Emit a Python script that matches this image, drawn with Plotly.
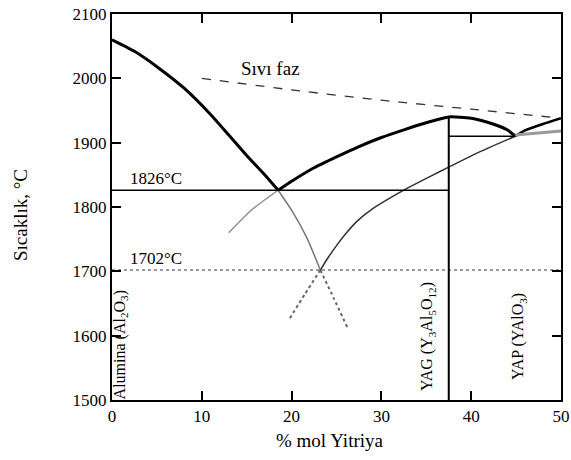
import plotly.graph_objects as go

# Liquidus (stable) curves
liq_al_x = [0, 2.5, 5.3, 8.0, 10.9, 13.0, 15.0, 17.0, 18.5]
liq_al_t = [2060, 2042, 2015, 1985, 1945, 1912, 1880, 1850, 1826]
liq_yag_x = [18.5, 20, 22.5, 25, 27.5, 30, 32.5, 35, 37.5, 40, 42, 44, 44.9]
liq_yag_t = [1826, 1840, 1861, 1878, 1894, 1908, 1920, 1931, 1940, 1938, 1931, 1920, 1910]
liq_yap_x = [44.9, 46, 48, 50]
liq_yap_t = [1910, 1919, 1929, 1938]

# Metastable extensions
meta_al_up_x = [13.0, 15.5, 18.5]
meta_al_up_t = [1760, 1795, 1826]
meta_al_down_x = [18.5, 20.0, 21.7, 23.2]
meta_al_down_t = [1826, 1795, 1752, 1702]
meta_al_dash_x = [23.2, 24.7, 26.2]
meta_al_dash_t = [1702, 1658, 1613]
meta_yag_x = [23.2, 24.0, 25.0, 26.0, 27.3, 29.0, 30.6, 33.0, 35.5, 37.5, 41.0, 44.9]
meta_yag_t = [1702, 1720, 1740, 1758, 1778, 1797, 1811, 1830, 1848, 1862, 1886, 1910]
meta_yag_dash_x = [23.2, 21.5, 19.8]
meta_yag_dash_t = [1702, 1665, 1627]
meta_yap_x = [44.9, 50]
meta_yap_t = [1912, 1918]

# Liquid-phase boundary (dashed)
sivi_x = [10, 20, 30, 40, 50]
sivi_t = [2000, 1982, 1966, 1952, 1938]

# Invariant temperatures
eut1_t = 1826
eut2_t = 1702
eut3_t = 1910
yag_x = 37.5

fig = go.Figure()

def add(x, y, color, width, dash="solid"):
    fig.add_trace(go.Scatter(x=x, y=y, mode="lines", line=dict(color=color, width=width, dash=dash,
                             shape="spline", smoothing=0.6), hoverinfo="skip", showlegend=False))

add(liq_al_x, liq_al_t, "black", 3)
add(liq_yag_x, liq_yag_t, "black", 3)
add(liq_yap_x, liq_yap_t, "black", 2.5)
add(meta_al_up_x, meta_al_up_t, "#888888", 1.3)
add(meta_al_down_x, meta_al_down_t, "#777777", 1.5)
add(meta_al_dash_x, meta_al_dash_t, "#666666", 2, "dot")
add(meta_yag_x, meta_yag_t, "#333333", 1.5)
add(meta_yag_dash_x, meta_yag_dash_t, "#666666", 2, "dot")
add(meta_yap_x, meta_yap_t, "#999999", 3)
add(sivi_x, sivi_t, "#333333", 1.3, "dash")

# Horizontal / vertical lines
add([0, yag_x], [eut1_t, eut1_t], "black", 1.5)
add([0, 50], [eut2_t, eut2_t], "#999999", 2, "dot")
add([yag_x, 44.9], [eut3_t, eut3_t], "black", 1.5)
add([yag_x, yag_x], [1500, 1940], "black", 2)

serif = "Liberation Serif, Times New Roman, DejaVu Serif, serif"
ann = [
    dict(x=17.6, y=2016, text="Sıvı faz", font=dict(size=19)),
    dict(x=1.8, y=eut1_t, text="1826°C", xanchor="left", yanchor="bottom", font=dict(size=17)),
    dict(x=1.8, y=eut2_t, text="1702°C", xanchor="left", yanchor="bottom", font=dict(size=17)),
    dict(x=0.9, y=1585, text="Alumina (Al<sub>2</sub>O<sub>3</sub>)", textangle=-90, font=dict(size=16)),
    dict(x=35.2, y=1598, text="YAG (Y<sub>3</sub>Al<sub>5</sub>O<sub>12</sub>)", textangle=-90, font=dict(size=16)),
    dict(x=45.3, y=1599, text="YAP (YAlO<sub>3</sub>)", textangle=-90, font=dict(size=16)),
    dict(x=0.486, y=-0.104, xref="paper", yref="paper", text="% mol Yitriya", font=dict(size=19)),
    dict(x=-0.205, y=0.479, xref="paper", yref="paper", text="Sıcaklık, °C", textangle=-90, font=dict(size=19)),
]
for a in ann:
    f = dict(family=serif, color="black")
    f.update(a.pop("font"))
    a.setdefault("xanchor", "center")
    a.setdefault("yanchor", "middle")
    fig.add_annotation(showarrow=False, font=f, **a)

axis_common = dict(showline=True, linewidth=2, linecolor="black", mirror="ticks", ticks="inside",
                   ticklen=9, tickwidth=2, tickcolor="black", showgrid=False, zeroline=False,
                   automargin=False, tickfont=dict(family=serif, size=17, color="black"))
fig.update_xaxes(range=[0, 50], tickvals=[0, 10, 20, 30, 40, 50], **axis_common)
fig.update_yaxes(range=[1500, 2100], tickvals=[1500, 1600, 1700, 1800, 1900, 2000, 2100], **axis_common)
fig.update_layout(width=571, height=460, margin=dict(l=112, r=10, t=14, b=60),
                  paper_bgcolor="white", plot_bgcolor="white", font=dict(family=serif))
fig.write_html("out.html", config={"displayModeBar": False},
               post_script="document.body.style.margin='0';")
